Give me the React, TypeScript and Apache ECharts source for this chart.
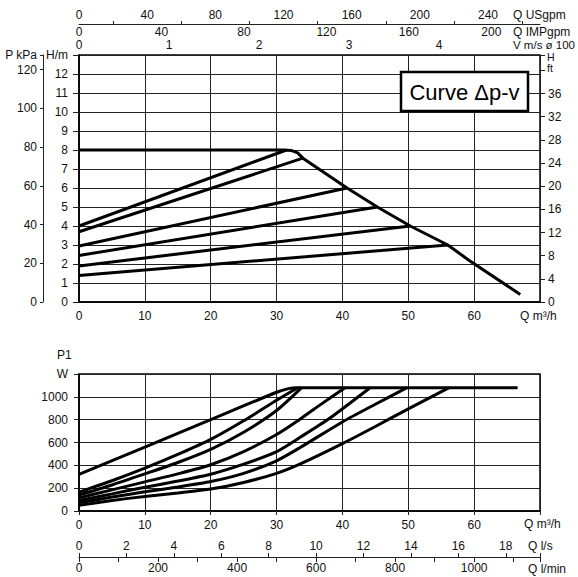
import React, { useEffect, useRef } from 'react';
import * as echarts from 'echarts';

// ---- Data (Q in m3/h, H in m) ----
const headMax = [[0, 8], [31, 8], [32.3, 7.97], [33.2, 7.85], [34, 7.57], [40.7, 6.0], [45.3, 5.0], [50.3, 4.0], [56, 3.0], [59.2, 2.2], [67, 0.4]];
const headL1 = [[0, 4.0], [31.5, 8.0]];
const headL2 = [[0, 3.7], [34, 7.57]];
const headL3 = [[0, 2.95], [40.7, 6.0]];
const headL4 = [[0, 2.45], [45.3, 5.0]];
const headL5 = [[0, 1.9], [50.3, 4.0]];
const headL6 = [[0, 1.4], [56, 3.0]];

// ---- Data (Q in m3/h, P1 in W) ----
const powerA = [[0, 320], [10, 560], [20, 800], [30, 1040], [31.8, 1072], [33, 1080], [66.6, 1080]];
const powerB = [[0, 165], [5, 265], [10, 375], [15, 495], [20, 627], [25, 790], [30, 970], [33.2, 1080]];
const powerC = [[0, 140], [5, 228], [10, 325], [15, 425], [20, 540], [25, 690], [30, 880], [33.8, 1080]];
const powerD = [[0, 115], [5, 185], [10, 255], [15, 325], [20, 405], [25, 520], [30, 670], [33.7, 810], [37, 945], [40.4, 1080]];
const powerE = [[0, 92], [5, 150], [10, 208], [15, 262], [20, 322], [25, 410], [30, 520], [33.7, 650], [38, 810], [44.2, 1080]];
const powerF = [[0, 72], [5, 122], [10, 168], [15, 210], [20, 258], [25, 330], [30, 440], [33.7, 560], [40, 780], [45, 935], [49.8, 1080]];
const powerG = [[0, 50], [5, 92], [10, 128], [15, 158], [20, 192], [25, 250], [30, 330], [33.7, 415], [40, 590], [45, 740], [50, 895], [56.2, 1080]];

// ---- Axis ranges ----
const qMax = 70;          // m3/h
const hMax = 13;          // m
const kpaMax = 13 * 9.80665;
const ftMax = 13 * 3.28084;
const usgpmMax = 270.5;
const impgpmMax = 223.6;
const velMax = 5.12;
const lsMax = 70 / 3.6;
const lminMax = 70 / 0.06;
const wMax = 1200;

const font = 'Liberation Sans, Arial, Helvetica, sans-serif';
const ink = '#111';

const near = (v: number, step: number) => Math.abs(v / step - Math.round(v / step)) < 1e-6;
const fmtStep = (step: number, upTo?: number) => (v: number) =>
  near(v, step) && (upTo === undefined || v <= upTo) ? String(Math.round(v)) : '';

const splitLine = { show: true, lineStyle: { color: '#222', width: 1 } };
const noLine = { show: false, onZero: false };
const lbl = (extra: any) => ({ fontSize: 12, color: ink, fontFamily: font, ...extra });

const topSeries = [headMax, headL1, headL2, headL3, headL4, headL5, headL6].map((d) => ({
  type: 'line', xAxisIndex: 0, yAxisIndex: 0, data: d, showSymbol: false, symbol: 'none', silent: true,
  lineStyle: { color: '#000', width: 3 },
}));
const botSeries = [powerA, powerB, powerC, powerD, powerE, powerF, powerG].map((d) => ({
  type: 'line', xAxisIndex: 4, yAxisIndex: 3, data: d, showSymbol: false, symbol: 'none', silent: true,
  smooth: 0.25,
  lineStyle: { color: '#000', width: 3 },
}));

const txt = (text: string, x: number, y: number, extra: any = {}) => ({
  type: 'text', x, y, z: 100,
  style: { text, fill: ink, fontSize: 12, fontFamily: font, align: 'left', verticalAlign: 'middle', ...extra },
});

const option: any = {
  animation: false,
  textStyle: { fontFamily: font, color: ink },
  grid: [
    { left: 79, top: 55, width: 461, height: 247, show: true, borderColor: '#000', borderWidth: 1.5 },
    { left: 79, top: 374, width: 461, height: 137, show: true, borderColor: '#000', borderWidth: 1.5 },
  ],
  xAxis: [
    { // 0: Q m3/h top chart
      gridIndex: 0, type: 'value', min: 0, max: qMax, interval: 10, position: 'bottom',
      axisLine: { show: true, onZero: false, lineStyle: { color: '#000', width: 1.5 } },
      axisTick: { show: false },
      axisLabel: lbl({ margin: 8, formatter: fmtStep(10, 60) }),
      splitLine,
    },
    { // 1: Q USgpm
      gridIndex: 0, type: 'value', min: 0, max: usgpmMax, interval: 40, position: 'top', offset: 31,
      axisLine: { show: true, onZero: false, lineStyle: { color: '#222', width: 1 } },
      axisTick: { show: false },
      minorTick: { show: true, splitNumber: 2, length: 3, lineStyle: { color: '#222' } },
      axisLabel: lbl({ margin: 3, formatter: fmtStep(40) }),
      splitLine: { show: false }, minorSplitLine: { show: false },
    },
    { // 2: Q IMPgpm
      gridIndex: 0, type: 'value', min: 0, max: impgpmMax, interval: 40, position: 'top', offset: 31,
      axisLine: noLine, axisTick: { show: false },
      axisLabel: lbl({ inside: true, margin: 2, formatter: fmtStep(40) }),
      splitLine: { show: false },
    },
    { // 3: V m/s
      gridIndex: 0, type: 'value', min: 0, max: velMax, interval: 1, position: 'top', offset: 0,
      axisLine: noLine, axisTick: { show: false },
      axisLabel: lbl({ margin: 4, formatter: fmtStep(1, 4) }),
      splitLine: { show: false },
    },
    { // 4: Q m3/h bottom chart
      gridIndex: 1, type: 'value', min: 0, max: qMax, interval: 10, position: 'bottom',
      axisLine: { show: true, onZero: false, lineStyle: { color: '#000', width: 1.5 } },
      axisTick: { show: true, length: 4, lineStyle: { color: '#222' } },
      axisLabel: lbl({ margin: 8, formatter: fmtStep(10, 60) }),
      splitLine,
    },
    { // 5: Q l/s
      gridIndex: 1, type: 'value', min: 0, max: lsMax, interval: 2, position: 'bottom', offset: 46,
      axisLine: { show: true, onZero: false, lineStyle: { color: '#222', width: 1 } },
      axisTick: { show: true, inside: true, length: 4, lineStyle: { color: '#222' } },
      axisLabel: lbl({ inside: true, margin: 5, formatter: fmtStep(2) }),
      splitLine: { show: false },
    },
    { // 6: Q l/min
      gridIndex: 1, type: 'value', min: 0, max: lminMax, interval: 200, position: 'bottom', offset: 46,
      axisLine: noLine,
      axisTick: { show: true, length: 5, lineStyle: { color: '#222' } },
      minorTick: { show: true, splitNumber: 2, length: 5, lineStyle: { color: '#222' } },
      axisLabel: lbl({ margin: 5, formatter: fmtStep(200) }),
      splitLine: { show: false }, minorSplitLine: { show: false },
    },
  ],
  yAxis: [
    { // 0: H m
      gridIndex: 0, type: 'value', min: 0, max: hMax, interval: 1, position: 'left',
      axisLine: { show: true, onZero: false, lineStyle: { color: '#000', width: 1.5 } },
      axisTick: { show: true, length: 6, lineStyle: { color: '#222' } },
      axisLabel: lbl({ margin: 11, formatter: (v: number) => (v === 13 ? 'H/m' : String(v)) }),
      splitLine,
    },
    { // 1: P kPa
      gridIndex: 0, type: 'value', min: 0, max: kpaMax, interval: 20, position: 'left', offset: 36,
      axisLine: { show: true, onZero: false, lineStyle: { color: '#222', width: 1 } },
      axisTick: { show: true, length: 3, lineStyle: { color: '#222' } },
      axisLabel: lbl({ margin: 6, formatter: fmtStep(20) }),
      splitLine: { show: false },
    },
    { // 2: H ft
      gridIndex: 0, type: 'value', min: 0, max: ftMax, interval: 4, position: 'right',
      axisLine: { show: false, onZero: false },
      axisTick: { show: true, length: 5, lineStyle: { color: '#222' } },
      axisLabel: lbl({ margin: 8, formatter: fmtStep(4, 36) }),
      splitLine: { show: false },
    },
    { // 3: P1 W
      gridIndex: 1, type: 'value', min: 0, max: wMax, interval: 200, position: 'left',
      axisLine: { show: true, onZero: false, lineStyle: { color: '#000', width: 1.5 } },
      axisTick: { show: true, length: 5, lineStyle: { color: '#222' } },
      axisLabel: lbl({ margin: 11, formatter: (v: number) => (v === 1200 ? 'W' : String(v)) }),
      splitLine,
    },
  ],
  graphic: [
    txt('Q USgpm', 513, 15),
    txt('Q IMPgpm', 513, 32),
    txt('V m/s ø 100', 513, 45, { fontSize: 11.5 }),
    txt('P kPa', 37, 55, { align: 'right' }),
    txt('H', 547, 57, { fontSize: 10.5 }),
    txt('ft', 547, 68, { fontSize: 10.5 }),
    txt('Q m³/h', 520, 316),
    txt('P1', 57, 355),
    txt('Q m³/h', 524, 524),
    txt('Q l/s', 528, 546),
    txt('Q l/min', 528, 569),
    {
      type: 'rect', z: 100,
      shape: { x: 401, y: 72, width: 127, height: 39 },
      style: { fill: '#fff', stroke: '#000', lineWidth: 2.5 },
    },
    txt('Curve Δp-v', 464.5, 92, { fontSize: 22, align: 'center', fill: '#000' }),
  ],
  series: [...topSeries, ...botSeries],
};

export default function App() {
  const ref = useRef<HTMLDivElement>(null);
  useEffect(() => {
    if (!ref.current) return;
    const chart = echarts.init(ref.current, null, { renderer: 'svg' });
    chart.setOption(option);
    return () => chart.dispose();
  }, []);
  return (
    <div
      ref={ref}
      style={{ position: 'fixed', left: 0, top: 0, width: 578, height: 577, background: '#fff' }}
    />
  );
}
